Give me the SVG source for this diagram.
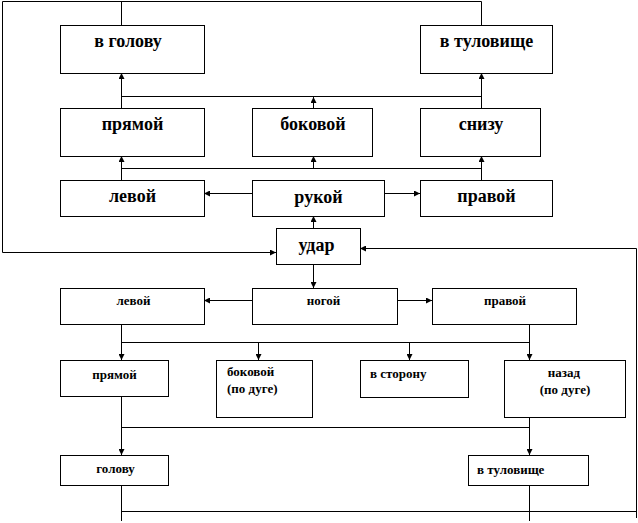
<svg xmlns="http://www.w3.org/2000/svg" width="638" height="523" viewBox="0 0 638 523">
<style>
.box{fill:#fff;stroke:#000;stroke-width:1}
.ln{fill:none;stroke:#000;stroke-width:1}
.a{marker-end:url(#ah)}
.big{font-family:"Liberation Serif","DejaVu Serif",serif;font-weight:bold;font-size:18px;fill:#000}
.sm{font-family:"Liberation Serif","DejaVu Serif",serif;font-weight:bold;font-size:13px;fill:#000}
.c{text-anchor:middle}
</style>
<defs>
<marker id="ah" markerUnits="userSpaceOnUse" markerWidth="6" markerHeight="6" viewBox="0 0 6 6" refX="6" refY="3" orient="auto">
<path d="M0,0 L6,3 L0,6 Z" fill="#000"/>
</marker>
</defs>
<rect width="638" height="523" fill="#fff"/>
<g id="connectors">
<path class="ln" d="M121.5,1.5 V25"/>
<path class="ln a" d="M481.5,25 V1.5 H2.5 V252.5 H276"/>
<path class="ln" d="M121.5,96.5 H481.5"/>
<path class="ln a" d="M121.5,108 V73"/>
<path class="ln a" d="M313.5,108 V97"/>
<path class="ln a" d="M481.5,108 V73"/>
<path class="ln" d="M121.5,168.5 H481.5"/>
<path class="ln a" d="M121.5,180 V156"/>
<path class="ln a" d="M313.5,168.5 V156"/>
<path class="ln a" d="M481.5,180 V156"/>
<path class="ln a" d="M252,193.5 H204"/>
<path class="ln a" d="M384,193.5 H420"/>
<path class="ln a" d="M313.5,228 V216"/>
<path class="ln a" d="M313.5,264 V288"/>
<path class="ln a" d="M252,300.5 H204"/>
<path class="ln a" d="M397,300.5 H432"/>
<path class="ln" d="M121.5,342.5 H529.5"/>
<path class="ln a" d="M121.5,324 V360"/>
<path class="ln a" d="M529.5,324 V360"/>
<path class="ln a" d="M258.5,342.5 V360"/>
<path class="ln a" d="M409.5,342.5 V360"/>
<path class="ln" d="M121.5,427.5 H529.5"/>
<path class="ln a" d="M121.5,396 V455"/>
<path class="ln a" d="M529.5,417 V455"/>
<path class="ln" d="M121.5,485 V521"/>
<path class="ln" d="M529.5,485 V521"/>
<path class="ln" d="M121.5,511.5 H636.5"/>
<path class="ln a" d="M636.5,518 V248.5 H360"/>
</g>
<g id="n-v-golovu"><rect class="box" x="60.5" y="25.5" width="144" height="48"/><text class="big c" x="128" y="47">в голову</text></g>
<g id="n-v-tulovishche"><rect class="box" x="420.5" y="25.5" width="132" height="48"/><text class="big c" x="486.5" y="47">в туловище</text></g>
<g id="n-pryamoy"><rect class="box" x="60.5" y="108.5" width="144" height="48"/><text class="big c" x="132.5" y="130">прямой</text></g>
<g id="n-bokovoy"><rect class="box" x="252.5" y="108.5" width="120" height="48"/><text class="big c" x="313" y="130">боковой</text></g>
<g id="n-snizu"><rect class="box" x="420.5" y="108.5" width="120" height="48"/><text class="big c" x="481" y="130">снизу</text></g>
<g id="n-levoy"><rect class="box" x="60.5" y="180.5" width="144" height="36"/><text class="big c" x="132.5" y="202">левой</text></g>
<g id="n-rukoy"><rect class="box" x="252.5" y="180.5" width="132" height="36"/><text class="big c" x="318.5" y="203">рукой</text></g>
<g id="n-pravoy"><rect class="box" x="420.5" y="180.5" width="132" height="36"/><text class="big c" x="486.5" y="202">правой</text></g>
<g id="n-udar"><rect class="box" x="276.5" y="228.5" width="84" height="36"/><text class="big c" x="316.5" y="251">удар</text></g>
<g id="n-levoy2"><rect class="box" x="60.5" y="288.5" width="144" height="36"/><text class="sm c" x="133.5" y="305">левой</text></g>
<g id="n-nogoy"><rect class="box" x="252.5" y="288.5" width="145" height="36"/><text class="sm c" x="323.5" y="305">ногой</text></g>
<g id="n-pravoy2"><rect class="box" x="432.5" y="288.5" width="144" height="36"/><text class="sm c" x="505" y="305">правой</text></g>
<g id="n-pryamoy2"><rect class="box" x="60.5" y="360.5" width="108" height="36"/><text class="sm c" x="114.5" y="379">прямой</text></g>
<g id="n-bokovoy2"><rect class="box" x="216.5" y="360.5" width="96" height="57"/><text class="sm" x="227" y="376">боковой</text><text class="sm" x="227" y="393">(по дуге)</text></g>
<g id="n-storonu"><rect class="box" x="360.5" y="360.5" width="108" height="37"/><text class="sm" x="370" y="378">в сторону</text></g>
<g id="n-nazad"><rect class="box" x="504.5" y="360.5" width="121" height="57"/><text class="sm c" x="564" y="377">назад</text><text class="sm c" x="565" y="394">(по дуге)</text></g>
<g id="n-golovu"><rect class="box" x="60.5" y="455.5" width="108" height="30"/><text class="sm c" x="115.5" y="473">голову</text></g>
<g id="n-tulovishche2"><rect class="box" x="468.5" y="455.5" width="120" height="30"/><text class="sm" x="477" y="474">в туловище</text></g>
</svg>
